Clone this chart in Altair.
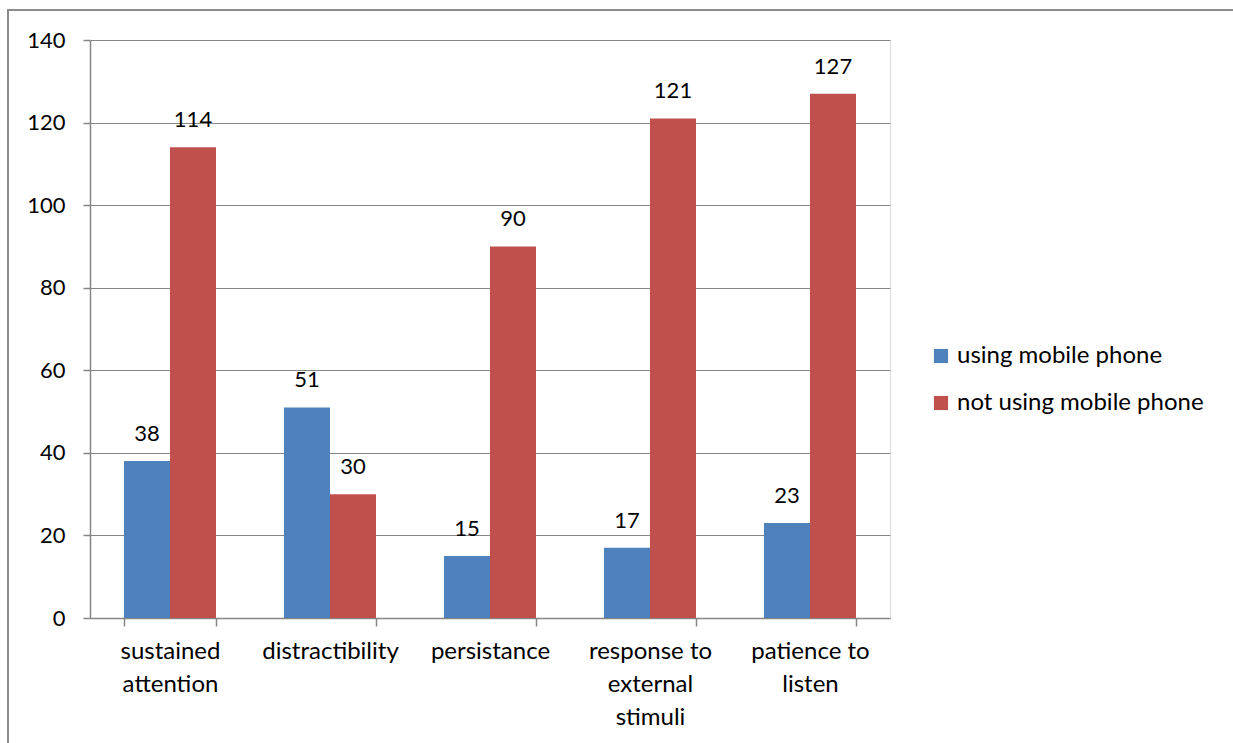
import altair as alt
import pandas as pd

categories = ["sustained|attention", "distractibility", "persistance", "response to|external|stimuli", "patience to|listen"]
series = ["using mobile phone", "not using mobile phone"]
using_vals = [38, 51, 15, 17, 23]
not_using_vals = [114, 30, 90, 121, 127]
y_ticks = [0, 20, 40, 60, 80, 100, 120, 140]
colors = ["#4F81BD", "#C0504D"]

rows = []
for c, u, n in zip(categories, using_vals, not_using_vals):
    rows.append({"cat": c, "series": series[0], "value": u})
    rows.append({"cat": c, "series": series[1], "value": n})
df = pd.DataFrame(rows)

FONT = "Lato"
FS_NUM = 22
FS_TXT = 24

x_enc = alt.X("cat:N", sort=categories, title=None,
              scale=alt.Scale(paddingInner=0.425, paddingOuter=0.2125),
              axis=alt.Axis(labelExpr="split(datum.label, '|')", labelAngle=0,
                            labelFontSize=FS_TXT, labelFont=FONT, labelColor="#000000",
                            labelLineHeight=33, labelPadding=13, tickBand="extent",
                            tickSize=8, tickColor="#868686", domainColor="#868686",
                            domainWidth=1.5, tickWidth=1.5, grid=False, labelBaseline="top",
                            labelLimit=0))
y_enc = alt.Y("value:Q", title=None,
              scale=alt.Scale(domain=[0, 140], nice=False),
              axis=alt.Axis(values=y_ticks, labelFontSize=FS_NUM, labelFont=FONT,
                            labelColor="#000000", tickSize=7, labelPadding=18,
                            tickColor="#868686", domainColor="#868686",
                            domainWidth=1.5, tickWidth=1.5, gridColor="#868686",
                            gridWidth=1.2))

base = alt.Chart(df).encode(
    x=x_enc,
    xOffset=alt.XOffset("series:N", sort=series),
)

bars = base.mark_bar().encode(
    y=y_enc,
    color=alt.Color("series:N", sort=series,
                    scale=alt.Scale(domain=series, range=colors),
                    legend=alt.Legend(title=None, orient="none", legendX=839, legendY=304,
                                      symbolType="square", symbolSize=200,
                                      symbolStrokeWidth=0, labelFontSize=FS_TXT,
                                      labelFont=FONT, labelColor="#000000",
                                      rowPadding=23, labelOffset=4, labelLimit=0)),
)

labels = base.mark_text(baseline="bottom", dy=-15, fontSize=FS_NUM, font=FONT, color="#000000").encode(
    y=alt.Y("value:Q"),
    text=alt.Text("value:Q"),
)

frame = alt.Chart(df).mark_rect(fill=None, stroke="#8c8c8c", strokeWidth=1.5, clip=False).encode(
    x=alt.value(-82), x2=alt.value(1400), y=alt.value(-30), y2=alt.value(900)
)

chart = alt.layer(frame, bars, labels).properties(
    width=800, height=578,
    autosize=alt.AutoSizeParams(type="none"),
    padding={"left": 90, "top": 40, "right": 343, "bottom": 125},
).configure_view(stroke=None).configure(background="white")

chart.save("out.html", embed_options={"renderer": "svg", "actions": False})
